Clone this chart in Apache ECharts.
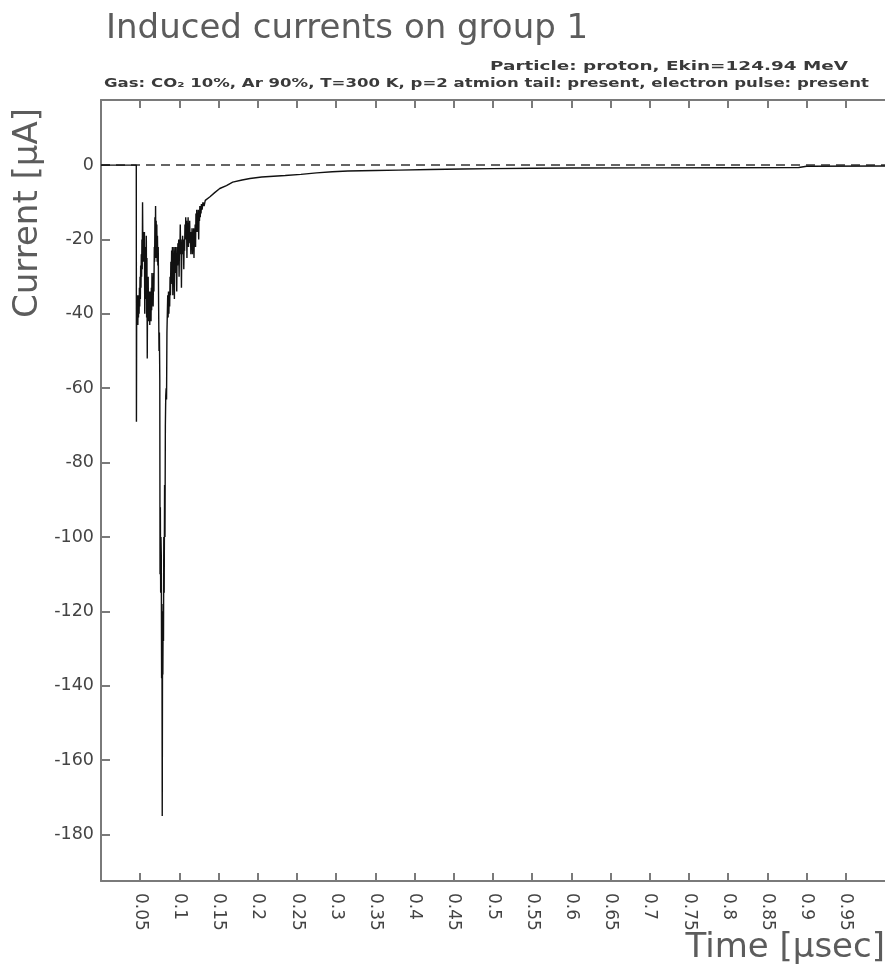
<!DOCTYPE html>
<html>
<head>
<meta charset="utf-8">
<title>Induced currents on group 1</title>
<script src="https://cdn.jsdelivr.net/npm/echarts@6/dist/echarts.min.js"></script>
<style>
  html, body { margin: 0; padding: 0; background: #ffffff; }
  #chart { width: 885px; height: 974px; }
</style>
</head>
<body>
<div id="chart"></div>
<script>
// Time samples in microseconds (ten per row)
const timeUs = [
  0, 0.0450, 0.0452, 0.0455, 0.0458, 0.0461, 0.0464, 0.0467, 0.0470, 0.0474,
  0.0478, 0.0482, 0.0486, 0.0490, 0.0494, 0.0498, 0.0502, 0.0506, 0.0510, 0.0514,
  0.0518, 0.0522, 0.0526, 0.0530, 0.0534, 0.0538, 0.0542, 0.0546, 0.0550, 0.0554,
  0.0558, 0.0562, 0.0566, 0.0570, 0.0574, 0.0578, 0.0582, 0.0586, 0.0590, 0.0594,
  0.0598, 0.0602, 0.0606, 0.0610, 0.0614, 0.0618, 0.0622, 0.0626, 0.0630, 0.0634,
  0.0638, 0.0642, 0.0646, 0.0650, 0.0655, 0.0660, 0.0665, 0.0670, 0.0675, 0.0680,
  0.0684, 0.0688, 0.0692, 0.0696, 0.0700, 0.0704, 0.0708, 0.0712, 0.0716, 0.0720,
  0.0725, 0.0730, 0.0735, 0.0740, 0.0745, 0.0750, 0.0753, 0.0757, 0.0761, 0.0765,
  0.0769, 0.0773, 0.0777, 0.0781, 0.0785, 0.0789, 0.0793, 0.0797, 0.0801, 0.0806,
  0.0811, 0.0816, 0.0821, 0.0826, 0.0831, 0.0836, 0.0841, 0.0846, 0.0851, 0.0856,
  0.0861, 0.0866, 0.0871, 0.0876, 0.0881, 0.0886, 0.0891, 0.0896, 0.0901, 0.0906,
  0.0911, 0.0916, 0.0921, 0.0926, 0.0931, 0.0936, 0.0941, 0.0946, 0.0951, 0.0956,
  0.0961, 0.0966, 0.0971, 0.0976, 0.0981, 0.0986, 0.0991, 0.0996, 0.1001, 0.1006,
  0.1011, 0.1016, 0.1021, 0.1026, 0.1031, 0.1036, 0.1041, 0.1046, 0.1051, 0.1056,
  0.1061, 0.1066, 0.1071, 0.1076, 0.1081, 0.1086, 0.1091, 0.1096, 0.1101, 0.1106,
  0.1111, 0.1116, 0.1121, 0.1126, 0.1131, 0.1136, 0.1141, 0.1146, 0.1151, 0.1156,
  0.1161, 0.1166, 0.1171, 0.1176, 0.1181, 0.1186, 0.1191, 0.1196, 0.1201, 0.1206,
  0.1211, 0.1216, 0.1221, 0.1226, 0.1231, 0.1236, 0.1241, 0.1246, 0.1251, 0.1256,
  0.1261, 0.1266, 0.1271, 0.1276, 0.1281, 0.1290, 0.1300, 0.1315, 0.1330, 0.1350,
  0.1390, 0.1450, 0.1515, 0.160, 0.168, 0.180, 0.190, 0.205, 0.220, 0.235,
  0.255, 0.275, 0.295, 0.315, 0.350, 0.380, 0.420, 0.460, 0.500, 0.550,
  0.600, 0.700, 0.800, 0.890, 0.900, 1.000
];

// Induced current in microamperes at each time sample (ten per row)
const currentUA = [
  0, 0, -69, -38, -43, -35, -42, -36, -43, -35,
  -41, -36, -40, -33, -38, -30, -36, -27, -33, -24,
  -30, -20, -28, -10, -22, -18, -26, -19, -25, -18,
  -40, -24, -30, -22, -36, -19, -41, -25, -52, -35,
  -40, -30, -42, -34, -42, -35, -43, -34, -41, -35,
  -42, -33, -39, -29, -36, -30, -38, -29, -34, -22,
  -26, -14, -24, -11, -25, -15, -24, -16, -26, -19,
  -27, -22, -38, -50, -45, -58, -110, -92, -115, -100,
  -105, -138, -118, -175, -128, -137, -120, -128, -100, -115,
  -86, -100, -70, -62, -60, -63, -45, -40, -35, -41,
  -34, -40, -34, -38, -30, -35, -26, -32, -23, -28,
  -22, -35, -24, -28, -22, -36, -23, -28, -22, -29,
  -24, -34, -22, -27, -21, -25, -20, -30, -21, -24,
  -16, -23, -20, -33, -21, -24, -19, -23, -20, -28,
  -20, -23, -16, -20, -14, -19, -15, -25, -16, -19,
  -14, -22, -17, -19, -15, -21, -18, -24, -18, -21,
  -17, -24, -18, -21, -17, -25, -18, -20, -16, -22,
  -13, -17, -12, -18, -13, -16, -12, -20, -13, -15,
  -11, -14, -11, -13, -10.5, -12, -10, -11, -9.5, -9,
  -8.5, -7.4, -6.3, -5.5, -4.6, -4.0, -3.6, -3.2, -3.0, -2.8,
  -2.5, -2.1, -1.8, -1.6, -1.45, -1.35, -1.2, -1.05, -0.95, -0.85,
  -0.8, -0.75, -0.7, -0.65, -0.3, -0.25
];

// Tick positions
const timeTicks = [0.05, 0.1, 0.15, 0.2, 0.25, 0.3, 0.35, 0.4, 0.45, 0.5,
                   0.55, 0.6, 0.65, 0.7, 0.75, 0.8, 0.85, 0.9, 0.95];
const currentTicks = [0, -20, -40, -60, -80, -100, -120, -140, -160, -180];

// Header and axis texts
const chartTitle = 'Induced currents on group 1';
const particleLine = 'Particle: proton, Ekin=124.94 MeV';
const gasLine = 'Gas: CO\u2082 10%, Ar 90%, T=300 K, p=2 atmion tail: present, electron pulse: present';
const yAxisTitle = 'Current [\u03bcA]';
const xAxisTitle = 'Time [\u03bcsec]';

const FONT = '"DejaVu Sans", "Liberation Sans", sans-serif';

// Horizontal stretch so a small, wide header line spans its slot
function stretchFor(text, size, weight, targetWidth) {
  const ctx = document.createElement('canvas').getContext('2d');
  ctx.font = weight + ' ' + size + 'px ' + FONT;
  return targetWidth / ctx.measureText(text).width;
}

const points = timeUs.map((t, i) => [t, currentUA[i]]);

const axisGray = '#7a7a7a';
const labelGray = '#444444';
const titleGray = '#5c5c5c';

const chart = echarts.init(document.getElementById('chart'), null, { renderer: 'canvas' });

chart.setOption({
  animation: false,
  backgroundColor: '#ffffff',
  title: {
    text: chartTitle,
    left: 101,
    top: 7,
    textStyle: { fontFamily: FONT, fontSize: 34, fontWeight: 'normal', color: titleGray }
  },
  grid: { left: 101, top: 100, width: 784, height: 781, containLabel: false },
  xAxis: [
    {
      type: 'value',
      position: 'bottom',
      min: 0,
      max: 1,
      axisLine: { show: true, onZero: false, lineStyle: { color: axisGray, width: 2 } },
      axisTick: { show: true, inside: true, length: 8, customValues: timeTicks,
                  lineStyle: { color: axisGray, width: 2 } },
      axisLabel: { show: true, rotate: -90, margin: 12, customValues: timeTicks,
                   fontFamily: FONT, fontSize: 17, color: labelGray },
      splitLine: { show: false }
    },
    {
      type: 'value',
      position: 'top',
      min: 0,
      max: 1,
      axisLine: { show: true, onZero: false, lineStyle: { color: axisGray, width: 2 } },
      axisTick: { show: true, inside: true, length: 8, customValues: timeTicks,
                  lineStyle: { color: axisGray, width: 2 } },
      axisLabel: { show: false },
      splitLine: { show: false }
    }
  ],
  yAxis: {
    type: 'value',
    min: -192.5,
    max: 17.5,
    axisLine: { show: true, onZero: false, lineStyle: { color: axisGray, width: 2 } },
    axisTick: { show: true, inside: true, length: 9, customValues: currentTicks,
                lineStyle: { color: axisGray, width: 2 } },
    axisLabel: { show: true, margin: 7, customValues: currentTicks,
                 fontFamily: FONT, fontSize: 17.5, color: labelGray },
    splitLine: { show: false }
  },
  series: [
    {
      name: 'Induced current',
      type: 'line',
      xAxisIndex: 0,
      data: points,
      showSymbol: false,
      symbol: 'none',
      lineStyle: { color: '#111111', width: 1.4 },
      z: 3,
      markLine: {
        silent: true,
        symbol: 'none',
        label: { show: false },
        lineStyle: { color: '#333333', width: 1.5, type: [9, 6] },
        data: [{ yAxis: 0 }],
        z: 2
      }
    }
  ],
  graphic: [
    {
      type: 'text',
      x: 490,
      y: 67,
      scaleX: stretchFor(particleLine, 12, 'bold', 358),
      style: { text: particleLine, fontFamily: FONT, fontSize: 12, fontWeight: 'bold',
               fill: '#3a3a3a', textAlign: 'left', textVerticalAlign: 'middle' }
    },
    {
      type: 'text',
      x: 104,
      y: 84,
      scaleX: stretchFor(gasLine, 12, 'bold', 765),
      style: { text: gasLine, fontFamily: FONT, fontSize: 12, fontWeight: 'bold',
               fill: '#3a3a3a', textAlign: 'left', textVerticalAlign: 'middle' }
    },
    {
      type: 'text',
      x: 28,
      y: 213,
      rotation: Math.PI / 2,
      style: { text: yAxisTitle, fontFamily: FONT, fontSize: 34, fill: titleGray,
               textAlign: 'center', textVerticalAlign: 'middle' }
    },
    {
      type: 'text',
      x: 885,
      y: 948,
      style: { text: xAxisTitle, fontFamily: FONT, fontSize: 34, fill: titleGray,
               textAlign: 'right', textVerticalAlign: 'middle' }
    }
  ]
});
</script>
</body>
</html>
